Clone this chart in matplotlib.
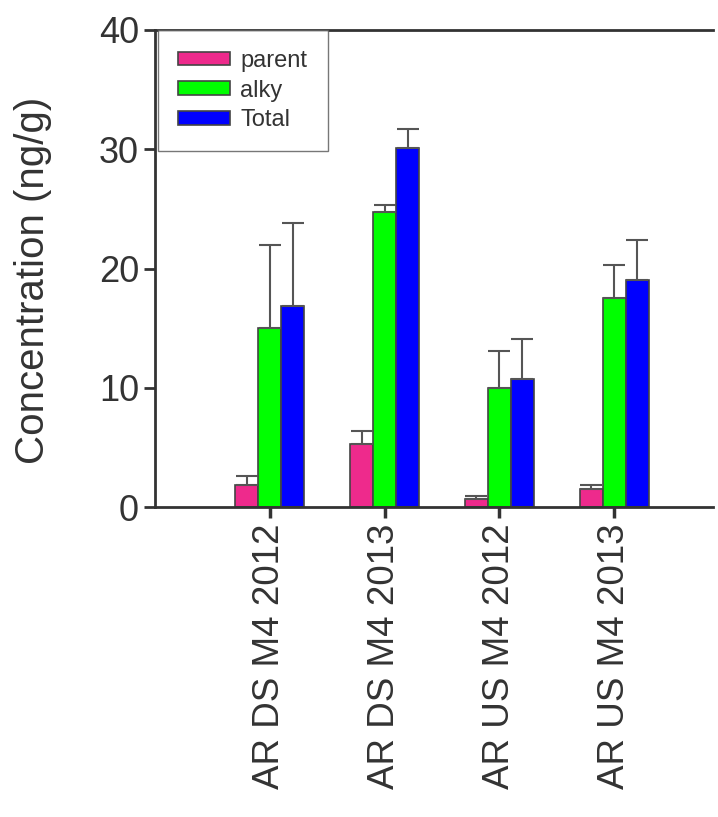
import numpy as np
import matplotlib
matplotlib.use('Agg')
import matplotlib.pyplot as plt

plt.rcParams['font.family'] = ['Liberation Sans', 'DejaVu Sans']

sites = ['AR DS M4 2012', 'AR DS M4 2013', 'AR US M4 2012', 'AR US M4 2013']
parent = [1.85, 5.25, 0.65, 1.55]
parent_err = [0.75, 1.1, 0.3, 0.3]
alky = [15.05, 24.75, 9.95, 17.5]
alky_err = [6.9, 0.55, 3.1, 2.8]
total = [16.85, 30.1, 10.7, 19.0]
total_err = [7.0, 1.6, 3.4, 3.4]

col_parent = '#ee2a8c'
col_alky = '#00ff00'
col_total = '#0000ff'
txt = '#333333'

fig = plt.figure(figsize=(7.18, 8.17), dpi=100)
ax = fig.add_axes([0.2159, 0.3794, 0.777, 0.5839])

x = np.arange(len(sites))
w = 0.2
ekw = dict(ecolor='#555555', elinewidth=1.5, capsize=8, capthick=1.5)
for off, vals, errs, c, lab in [(-w, parent, parent_err, col_parent, 'parent'),
                                (0, alky, alky_err, col_alky, 'alky'),
                                (w, total, total_err, col_total, 'Total')]:
    ax.bar(x + off, vals, w, color=c, edgecolor='#444444', linewidth=1.2, label=lab,
           yerr=[np.zeros(len(errs)), errs], error_kw=ekw)

ax.set_xlim(-1.0, 3.86)
ax.set_ylim(0, 40)
ax.set_yticks([0, 10, 20, 30, 40])
ax.set_xticks(x)
ax.set_xticklabels(sites, rotation=90, fontsize=26.5, color=txt)
ax.tick_params(axis='y', labelsize=26, labelcolor=txt, length=8, width=2, color=txt)
ax.tick_params(axis='x', length=8, width=2.5, color=txt, pad=4)
ax.set_ylabel('Concentration (ng/g)', fontsize=29, color=txt)
ax.yaxis.set_label_coords(-0.185, 0.476)

ax.spines['right'].set_visible(False)
for s in ['left', 'bottom', 'top']:
    ax.spines[s].set_linewidth(2)
    ax.spines[s].set_color(txt)

leg = ax.legend(loc='upper left', bbox_to_anchor=(0.005, 1.0), fontsize=17,
                frameon=True, fancybox=False, borderaxespad=0.0,
                handlelength=2.2, handleheight=0.5, handletextpad=0.45,
                borderpad=0.85, labelspacing=0.32)
leg.get_frame().set_edgecolor('#555555')
leg.get_frame().set_linewidth(1)
for t in leg.get_texts():
    t.set_color(txt)

fig.savefig('out.png', dpi=100)
